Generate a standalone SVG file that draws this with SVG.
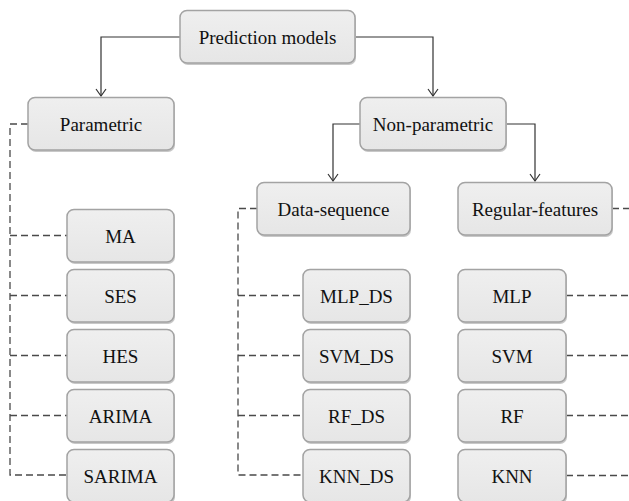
<svg xmlns="http://www.w3.org/2000/svg" width="629" height="501" viewBox="0 0 629 501">
<defs>
<linearGradient id="g" x1="0" y1="0" x2="0" y2="1">
<stop offset="0" stop-color="#efefef"/>
<stop offset="1" stop-color="#e6e6e6"/>
</linearGradient>
</defs>
<style>
.box{fill:url(#g);stroke:#a3a3a3;stroke-width:1.5}
.sh{fill:#c8c8c8}
.solid{fill:none;stroke:#333;stroke-width:1.2}
.ah{fill:none;stroke:#333;stroke-width:1.2}
.dash{fill:none;stroke:#4a4a4a;stroke-width:1.3;stroke-dasharray:7,4}
</style>
<rect width="629" height="501" fill="#fff"/>
<g id="connectors">
<path class="solid" d="M180,37 H101 V96"/>
<path class="ah" d="M96,89 L101,96 L106,89"/>
<path class="solid" d="M355,37 H433 V96"/>
<path class="ah" d="M428,89 L433,96 L438,89"/>
<path class="solid" d="M360,124 H333 V181"/>
<path class="ah" d="M328,174 L333,181 L338,174"/>
<path class="solid" d="M506,124 H535 V181"/>
<path class="ah" d="M530,174 L535,181 L540,174"/>
<path class="dash" d="M28,124 H10 V475 H67"/>
<path class="dash" d="M10,235.5 H67 M10,295.5 H67 M10,355.5 H67 M10,415.5 H67"/>
<path class="dash" d="M257,208.5 H238 V475 H303"/>
<path class="dash" d="M238,295.5 H303 M238,355.5 H303 M238,415.5 H303"/>
<path class="dash" d="M612,208.5 H629"/>
<path class="dash" d="M566,295.5 H629 M566,355.5 H629 M566,415.5 H629 M566,475.5 H629"/>
</g>
<g id="n-prediction"><rect class="sh" x="181" y="12" width="175" height="53" rx="7"/><rect class="box" x="180" y="10.5" width="175" height="52.5" rx="7"/><text x="267.5" y="43.5" font-family="Liberation Serif" font-size="19" text-anchor="middle" fill="#111">Prediction models</text></g>
<g id="n-parametric"><rect class="sh" x="29" y="99" width="146" height="53" rx="7"/><rect class="box" x="28" y="97.5" width="146" height="52.5" rx="7"/><text x="101" y="130.5" font-family="Liberation Serif" font-size="19" text-anchor="middle" fill="#111">Parametric</text></g>
<g id="n-nonparametric"><rect class="sh" x="361" y="99" width="146" height="53" rx="7"/><rect class="box" x="360" y="97.5" width="146" height="52.5" rx="7"/><text x="433" y="130.5" font-family="Liberation Serif" font-size="19" text-anchor="middle" fill="#111">Non-parametric</text></g>
<g id="n-dataseq"><rect class="sh" x="258" y="184" width="153" height="53" rx="7"/><rect class="box" x="257" y="182.5" width="153" height="52.5" rx="7"/><text x="333.5" y="215.5" font-family="Liberation Serif" font-size="19" text-anchor="middle" fill="#111">Data-sequence</text></g>
<g id="n-regular"><rect class="sh" x="459" y="184" width="154" height="53" rx="7"/><rect class="box" x="458" y="182.5" width="154" height="52.5" rx="7"/><text x="535" y="215.5" font-family="Liberation Serif" font-size="19" text-anchor="middle" fill="#111">Regular-features</text></g>
<g id="n-ma"><rect class="sh" x="68" y="211" width="107" height="53" rx="7"/><rect class="box" x="67" y="209.5" width="107" height="52.5" rx="7"/><text x="120.5" y="242.5" font-family="Liberation Serif" font-size="19" text-anchor="middle" fill="#111">MA</text></g>
<g id="n-ses"><rect class="sh" x="68" y="271" width="107" height="53" rx="7"/><rect class="box" x="67" y="269.5" width="107" height="52.5" rx="7"/><text x="120.5" y="302.5" font-family="Liberation Serif" font-size="19" text-anchor="middle" fill="#111">SES</text></g>
<g id="n-hes"><rect class="sh" x="68" y="331" width="107" height="53" rx="7"/><rect class="box" x="67" y="329.5" width="107" height="52.5" rx="7"/><text x="120.5" y="362.5" font-family="Liberation Serif" font-size="19" text-anchor="middle" fill="#111">HES</text></g>
<g id="n-arima"><rect class="sh" x="68" y="391" width="107" height="53" rx="7"/><rect class="box" x="67" y="389.5" width="107" height="52.5" rx="7"/><text x="120.5" y="422.5" font-family="Liberation Serif" font-size="19" text-anchor="middle" fill="#111">ARIMA</text></g>
<g id="n-sarima"><rect class="sh" x="68" y="451" width="107" height="53" rx="7"/><rect class="box" x="67" y="449.5" width="107" height="52.5" rx="7"/><text x="120.5" y="482.5" font-family="Liberation Serif" font-size="19" text-anchor="middle" fill="#111">SARIMA</text></g>
<g id="n-mlpds"><rect class="sh" x="304" y="271" width="107" height="53" rx="7"/><rect class="box" x="303" y="269.5" width="107" height="52.5" rx="7"/><text x="356.5" y="302.5" font-family="Liberation Serif" font-size="19" text-anchor="middle" fill="#111">MLP_DS</text></g>
<g id="n-svmds"><rect class="sh" x="304" y="331" width="107" height="53" rx="7"/><rect class="box" x="303" y="329.5" width="107" height="52.5" rx="7"/><text x="356.5" y="362.5" font-family="Liberation Serif" font-size="19" text-anchor="middle" fill="#111">SVM_DS</text></g>
<g id="n-rfds"><rect class="sh" x="304" y="391" width="107" height="53" rx="7"/><rect class="box" x="303" y="389.5" width="107" height="52.5" rx="7"/><text x="356.5" y="422.5" font-family="Liberation Serif" font-size="19" text-anchor="middle" fill="#111">RF_DS</text></g>
<g id="n-knnds"><rect class="sh" x="304" y="451" width="107" height="53" rx="7"/><rect class="box" x="303" y="449.5" width="107" height="52.5" rx="7"/><text x="356.5" y="482.5" font-family="Liberation Serif" font-size="19" text-anchor="middle" fill="#111">KNN_DS</text></g>
<g id="n-mlp"><rect class="sh" x="459" y="271" width="108" height="53" rx="7"/><rect class="box" x="458" y="269.5" width="108" height="52.5" rx="7"/><text x="512" y="302.5" font-family="Liberation Serif" font-size="19" text-anchor="middle" fill="#111">MLP</text></g>
<g id="n-svm"><rect class="sh" x="459" y="331" width="108" height="53" rx="7"/><rect class="box" x="458" y="329.5" width="108" height="52.5" rx="7"/><text x="512" y="362.5" font-family="Liberation Serif" font-size="19" text-anchor="middle" fill="#111">SVM</text></g>
<g id="n-rf"><rect class="sh" x="459" y="391" width="108" height="53" rx="7"/><rect class="box" x="458" y="389.5" width="108" height="52.5" rx="7"/><text x="512" y="422.5" font-family="Liberation Serif" font-size="19" text-anchor="middle" fill="#111">RF</text></g>
<g id="n-knn"><rect class="sh" x="459" y="451" width="108" height="53" rx="7"/><rect class="box" x="458" y="449.5" width="108" height="52.5" rx="7"/><text x="512" y="482.5" font-family="Liberation Serif" font-size="19" text-anchor="middle" fill="#111">KNN</text></g>
</svg>
